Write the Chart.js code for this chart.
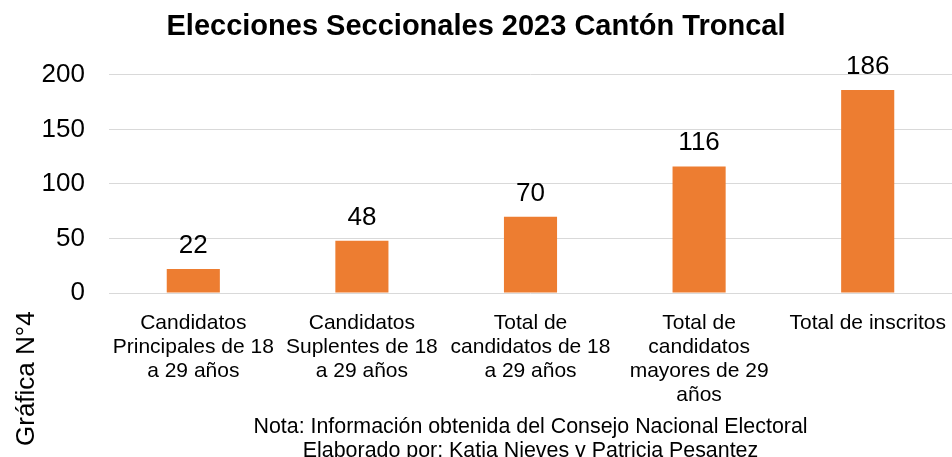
<!DOCTYPE html>
<html>
<head>
  <title>Elecciones Seccionales 2023 Cantón Troncal</title>
  <script src="https://cdn.jsdelivr.net/npm/chart.js"></script>
  <style>
    body { margin: 0; background: #fff; }
    #wrap { width: 952px; height: 457px; }
  </style>
</head>
<body>
  <div id="wrap"><canvas id="myChart" width="952" height="457"></canvas></div>

  <script>
    // Data
    const categories = [
      ['Candidatos', 'Principales de 18', 'a 29 años'],
      ['Candidatos', 'Suplentes de 18', 'a 29 años'],
      ['Total de', 'candidatos de 18', 'a 29 años'],
      ['Total de', 'candidatos', 'mayores de 29', 'años'],
      ['Total de inscritos']
    ];
    const values = [22, 48, 70, 116, 186];
    const yTicks = [0, 50, 100, 150, 200];
    const chartTitle = 'Elecciones Seccionales 2023 Cantón Troncal';
    const sideTitle = 'Gráfica N°4';
    const noteLines = [
      'Nota: Información obtenida del Consejo Nacional Electoral',
      'Elaborado por: Katia Nieves y Patricia Pesantez'
    ];

    const FONT = '"Liberation Sans", Arial, sans-serif';

    // draws value labels, the side title and the notes under the axis
    const extraText = {
      id: 'extraText',
      afterDatasetsDraw(chart) {
        const ctx = chart.ctx;
        const area = chart.chartArea;
        ctx.save();
        ctx.fillStyle = '#000';

        // value labels above the bars
        ctx.font = '26px ' + FONT;
        ctx.textAlign = 'center';
        ctx.textBaseline = 'alphabetic';
        chart.getDatasetMeta(0).data.forEach((bar, i) => {
          ctx.fillText(values[i], bar.x, bar.y - 16);
        });

        // notes
        ctx.font = '21.4px ' + FONT;
        const cx = (area.left + area.right) / 2;
        ctx.fillText(noteLines[0], cx, 433);
        ctx.fillText(noteLines[1], cx, 457);

        // rotated side title
        ctx.font = '26px ' + FONT;
        ctx.translate(34, 446);
        ctx.rotate(-Math.PI / 2);
        ctx.textAlign = 'left';
        ctx.fillText(sideTitle, 0, 0);
        ctx.restore();
      }
    };

    var ctx = document.getElementById('myChart').getContext('2d');
    var myChart = new Chart(ctx, {
      type: 'bar',
      data: {
        labels: categories,
        datasets: [{
          data: values,
          backgroundColor: '#ED7D31',
          borderWidth: 0,
          barPercentage: 0.315,
          categoryPercentage: 1
        }]
      },
      options: {
        responsive: false,
        animation: false,
        layout: { padding: 0 },
        plugins: {
          legend: { display: false },
          tooltip: { enabled: false },
          title: {
            display: true,
            text: chartTitle,
            color: '#000',
            font: { family: FONT, size: 29, weight: 'bold', lineHeight: 1.2 },
            padding: { top: 10, bottom: 30 }
          }
        },
        scales: {
          x: {
            grid: { display: false },
            border: { display: false },
            ticks: {
              color: '#000',
              font: { family: FONT, size: 21, lineHeight: 1.15 },
              padding: 10,
              maxRotation: 0,
              autoSkip: false
            },
            afterFit(scale) {
              scale.height = 164;
              scale.paddingLeft = 0;
              scale.paddingRight = 0;
            }
          },
          y: {
            min: 0,
            max: 200,
            afterBuildTicks(scale) {
              scale.ticks = yTicks.map(v => ({ value: v }));
            },
            grid: { color: '#d9d9d9', lineWidth: 1, drawTicks: false },
            border: { display: false },
            ticks: {
              color: '#000',
              font: { family: FONT, size: 26 },
              padding: 24
            },
            afterFit(scale) { scale.width = 109; }
          }
        }
      },
      plugins: [extraText]
    });
  </script>
</body>
</html>
